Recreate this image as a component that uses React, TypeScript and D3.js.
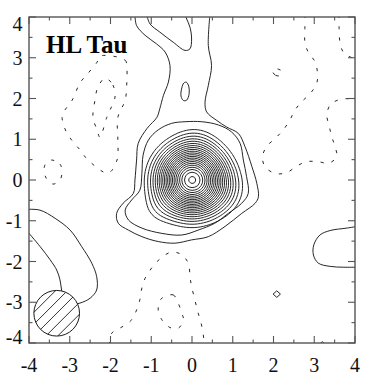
import React from 'react';
import * as d3 from 'd3';

type P = [number, number];

const W = 380;
const H = 388;

// axis ticks
const majorTicks = [-4, -3, -2, -1, 0, 1, 2, 3, 4];
const minorTicks = [-3.5, -2.5, -1.5, -0.5, 0.5, 1.5, 2.5, 3.5];
const title = 'HL Tau';

// core emission model: gaussian components
const coreX = [0.0, 0.9, -0.95, 0.1];
const coreY = [0.0, -0.35, -0.8, 0.95];
const coreAmp = [24.2, 1.3, 1.2, 1.0];
const coreSx = [0.57, 0.4, 0.33, 0.35];
const coreSy = [0.57, 0.4, 0.33, 0.35];
const coreLevels = [3, 4, 5, 6, 7, 8, 9, 10, 11, 12, 13, 14, 15, 16, 17, 18, 19, 20, 21, 22, 23, 24];

// outermost positive contour (level 1), open: enters and leaves through the top edge
const level1: P[] = [
  [-1.40, 4.05], [-1.36, 3.79], [-1.15, 3.55], [-0.87, 3.34], [-0.66, 3.14], [-0.54, 2.81],
  [-0.58, 2.40], [-0.70, 2.08], [-0.79, 1.75], [-0.86, 1.54], [-1.10, 1.27], [-1.32, 0.90],
  [-1.36, 0.49], [-1.40, 0.00], [-1.44, -0.33], [-1.69, -0.57], [-1.85, -0.82], [-1.81, -1.06],
  [-1.56, -1.23], [-1.23, -1.39], [-0.83, -1.51], [-0.42, -1.55], [-0.01, -1.47], [0.40, -1.39],
  [0.81, -1.14], [1.22, -0.82], [1.55, -0.57], [1.63, -0.41], [1.59, -0.08], [1.47, 0.33],
  [1.30, 0.82], [1.14, 1.14], [0.85, 1.30], [0.61, 1.46], [0.36, 1.67], [0.32, 1.91],
  [0.40, 2.32], [0.48, 2.81], [0.40, 3.30], [0.44, 4.05],
];

// second positive contour (closed)
const level2: P[] = [
  [-0.17, 1.43], [0.24, 1.43], [0.65, 1.35], [0.97, 1.18], [1.18, 0.90], [1.26, 0.49],
  [1.34, 0.08], [1.38, -0.33], [1.22, -0.57], [0.89, -0.82], [0.56, -1.06], [0.15, -1.23],
  [-0.25, -1.35], [-0.74, -1.31], [-1.23, -1.18], [-1.56, -0.98], [-1.64, -0.74], [-1.48, -0.49],
  [-1.28, -0.25], [-1.23, 0.16], [-1.20, 0.61], [-1.07, 0.98], [-0.83, 1.23], [-0.50, 1.39],
];

// U-shaped positive contour hanging from the top edge
const topLoop: P[] = [
  [-1.11, 4.05], [-1.03, 3.83], [-0.79, 3.63], [-0.46, 3.38], [-0.17, 3.18], [-0.05, 3.22],
  [-0.01, 3.46], [-0.05, 3.75], [-0.13, 3.95], [-0.17, 4.05],
];

// small positive island in the jet (closed)
const jetIsland: P[] = [
  [-0.14, 2.40], [-0.08, 2.30], [-0.07, 2.12], [-0.13, 1.96], [-0.21, 1.95], [-0.27, 2.06],
  [-0.25, 2.26], [-0.20, 2.38],
];

// lower-left positive contour (open, both ends at the left edge)
const lowerLeft: P[] = [
  [-4.05, -0.72], [-3.73, -0.74], [-3.36, -0.94], [-2.99, -1.23], [-2.71, -1.63], [-2.46, -2.04],
  [-2.34, -2.37], [-2.34, -2.70], [-2.50, -2.90], [-2.75, -3.02], [-3.0, -3.05], [-3.15, -2.90],
  [-3.20, -2.70], [-3.24, -2.45], [-3.32, -2.21], [-3.48, -1.96], [-3.73, -1.63], [-4.05, -1.25],
];

// right-edge positive contour (open)
const rightLobe: P[] = [
  [4.05, -1.14], [3.80, -1.18], [3.39, -1.24], [3.14, -1.35], [2.99, -1.59], [2.98, -1.84],
  [3.10, -2.04], [3.39, -2.12], [3.71, -2.14], [4.05, -2.14],
];

const diamond: P[] = [[2.08, -2.72], [2.17, -2.80], [2.08, -2.88], [1.99, -2.80]];
const bottomNub: P[] = [[3.12, -4.05], [3.2, -3.97], [3.28, -4.05]];

// negative contours (dashed)
const negOuterUL: P[] = [
  [-2.26, 3.04], [-1.64, 2.94], [-1.60, 2.77], [-1.60, 2.38], [-1.64, 1.96], [-1.82, 1.54],
  [-1.82, 0.98], [-1.84, 0.49], [-2.06, 0.17], [-2.55, 0.49], [-2.75, 0.74], [-3.07, 1.15],
  [-3.19, 1.54], [-3.17, 1.64], [-2.94, 1.96], [-2.75, 2.38], [-2.55, 2.62], [-2.33, 2.89],
];
const negInnerUL: P[] = [
  [-2.13, 2.50], [-1.94, 2.33], [-1.89, 2.03], [-2.01, 1.72], [-2.09, 1.54], [-2.26, 1.05],
  [-2.33, 1.23], [-2.43, 1.54], [-2.38, 1.96], [-2.31, 2.28],
];
const negSmallL: P[] = [
  [-3.44, 0.49], [-3.24, 0.39], [-3.19, 0.20], [-3.24, 0.0], [-3.41, -0.10], [-3.58, 0.05],
  [-3.63, 0.29], [-3.56, 0.44],
];
const negRightBig: P[] = [
  [2.77, 4.05], [2.77, 3.72], [2.77, 3.39], [2.85, 3.14], [3.02, 2.90], [3.08, 2.61], [3.06, 2.37],
  [2.90, 2.12], [2.69, 1.92], [2.53, 1.72], [2.40, 1.47], [2.24, 1.23], [2.04, 1.02], [1.83, 0.82],
  [1.73, 0.57], [1.79, 0.33], [2.04, 0.16], [2.32, 0.18], [2.57, 0.34], [2.81, 0.45], [3.10, 0.45],
  [3.35, 0.41], [3.55, 0.57], [3.51, 0.82], [3.43, 1.06], [3.37, 1.31], [3.31, 1.59], [3.39, 1.84],
  [3.63, 1.98], [3.92, 2.00], [4.05, 2.03],
];
const negRightTop: P[] = [
  [3.61, 4.05], [3.61, 3.72], [3.63, 3.39], [3.71, 3.14], [3.88, 3.02], [4.05, 2.98],
];
const negRightSmall: P[] = [
  [1.97, 2.68], [2.05, 2.57], [2.15, 2.56], [2.21, 2.66], [2.12, 2.72], [2.02, 2.72],
];
const negBottomOuter: P[] = [
  [-2.03, -4.05], [-1.97, -3.76], [-1.69, -3.59], [-1.48, -3.43], [-1.36, -3.19], [-1.28, -2.94],
  [-1.23, -2.65], [-1.15, -2.41], [-0.99, -2.16], [-0.79, -1.94], [-0.54, -1.78], [-0.29, -1.81],
  [-0.09, -2.04], [-0.05, -2.37], [-0.01, -2.61], [0.07, -2.94], [0.13, -3.19], [0.20, -3.43],
  [0.26, -3.68], [0.29, -3.92], [0.30, -4.05],
];
const negBottomInner: P[] = [
  [-0.74, -2.90], [-0.46, -2.82], [-0.34, -3.02], [-0.25, -3.27], [-0.21, -3.43], [-0.34, -3.64],
  [-0.54, -3.62], [-0.74, -3.43], [-0.83, -3.19], [-0.79, -2.98],
];

// beam
const beamCenter: P = [-3.32, -3.27];
const beamRadius = 0.56;

const openSolid = [level1, topLoop, lowerLeft, rightLobe, bottomNub];
const closedSolid = [level2, jetIsland, diamond];
const openDashed = [negRightBig, negRightTop, negBottomOuter];
const closedDashed = [negOuterUL, negInnerUL, negSmallL, negRightSmall, negBottomInner];

const left = 29, right = 355, top = 17, bottom = 343;
const serif = "'Liberation Serif', 'Times New Roman', Times, serif";

export default function App() {
  const xs = d3.scaleLinear().domain([-4, 4]).range([left, right]);
  const ys = d3.scaleLinear().domain([-4, 4]).range([bottom, top]);

  const openLine = d3.line<P>().x(d => xs(d[0])).y(d => ys(d[1])).curve(d3.curveCatmullRom.alpha(0.5));
  const closedLine = d3.line<P>().x(d => xs(d[0])).y(d => ys(d[1])).curve(d3.curveCatmullRomClosed.alpha(0.5));
  const polyLine = d3.line<P>().x(d => xs(d[0])).y(d => ys(d[1])).curve(d3.curveLinearClosed);

  // core grid
  const gMin = -2.1, gStep = 0.07, gN = 61;
  const values: number[] = new Array(gN * gN);
  for (let j = 0; j < gN; j++) {
    for (let i = 0; i < gN; i++) {
      const x = gMin + i * gStep;
      const y = gMin + j * gStep;
      let v = 0;
      for (let k = 0; k < coreX.length; k++) {
        const dx = x - coreX[k], dy = y - coreY[k];
        v += coreAmp[k] * Math.exp(-(dx * dx) / (2 * coreSx[k] * coreSx[k]) - (dy * dy) / (2 * coreSy[k] * coreSy[k]));
      }
      values[j * gN + i] = v;
    }
  }
  const contours = d3.contours().size([gN, gN]).thresholds(coreLevels)(values);
  const proj = d3.geoTransform({
    point: function (this: any, gx: number, gy: number) {
      this.stream.point(xs(gMin + (gx - 0.5) * gStep), ys(gMin + (gy - 0.5) * gStep));
    },
  });
  const geo = d3.geoPath(proj);

  const stroke = '#1a1a1a';
  const sw = 0.95;
  const dash = '3.2,8';

  const bx = xs(beamCenter[0]);
  const by = ys(beamCenter[1]);
  const br = xs(beamCenter[0] + beamRadius) - bx;
  const hatchOffsets = [-4, -3, -2, -1, 0, 1, 2, 3, 4];
  const hs = 8.4;

  return (
    <svg width={W} height={H} style={{ position: 'absolute', left: 0, top: 0, background: '#fff' }}>
      <defs>
        <clipPath id="plot">
          <rect x={left} y={top} width={right - left} height={bottom - top} />
        </clipPath>
        <clipPath id="beam">
          <circle cx={bx} cy={by} r={br} />
        </clipPath>
      </defs>
      <rect x={0} y={0} width={W} height={H} fill="#fff" />
      <g clipPath="url(#plot)" fill="none" stroke={stroke} strokeWidth={sw} strokeLinejoin="round">
        {contours.map((c, i) => (
          <path key={'c' + i} d={geo(c as any) || ''} />
        ))}
        {openSolid.map((pts, i) => <path key={'os' + i} d={openLine(pts) || ''} />)}
        {closedSolid.map((pts, i) => (
          <path key={'cs' + i} d={(pts === diamond ? polyLine(pts) : closedLine(pts)) || ''} />
        ))}
        {openDashed.map((pts, i) => <path key={'od' + i} d={openLine(pts) || ''} strokeDasharray={dash} />)}
        {closedDashed.map((pts, i) => <path key={'cd' + i} d={closedLine(pts) || ''} strokeDasharray={dash} />)}
        <circle cx={bx} cy={by} r={br} fill="#fff" stroke={stroke} strokeWidth={1} />
        <g clipPath="url(#beam)">
          {hatchOffsets.map(k => {
            const ox = bx + k * hs / Math.SQRT2;
            const oy = by + k * hs / Math.SQRT2;
            return (
              <line key={'h' + k} x1={ox - 40} y1={oy + 40} x2={ox + 40} y2={oy - 40}
                stroke={stroke} strokeWidth={0.9} />
            );
          })}
        </g>
      </g>
      {/* frame */}
      <rect x={left} y={top} width={right - left} height={bottom - top} fill="none" stroke="#555" strokeWidth={1.4} />
      {/* ticks */}
      <g stroke="#555" strokeWidth={1.1}>
        {majorTicks.map(t => (
          <g key={'mt' + t}>
            <line x1={xs(t)} x2={xs(t)} y1={bottom} y2={bottom - 7} />
            <line x1={xs(t)} x2={xs(t)} y1={top} y2={top + 7} />
            <line x1={left} x2={left + 7} y1={ys(t)} y2={ys(t)} />
            <line x1={right} x2={right - 7} y1={ys(t)} y2={ys(t)} />
          </g>
        ))}
        {minorTicks.map(t => (
          <g key={'nt' + t}>
            <line x1={xs(t)} x2={xs(t)} y1={bottom} y2={bottom - 3.5} />
            <line x1={xs(t)} x2={xs(t)} y1={top} y2={top + 3.5} />
            <line x1={left} x2={left + 3.5} y1={ys(t)} y2={ys(t)} />
            <line x1={right} x2={right - 3.5} y1={ys(t)} y2={ys(t)} />
          </g>
        ))}
      </g>
      {/* tick labels */}
      <g fill="#111">
        {majorTicks.map(t => (
          <text key={'xl' + t} x={xs(t)} y={372} textAnchor="middle"
            style={{ fontFamily: serif, fontSize: '20px' }}>{t}</text>
        ))}
        {majorTicks.map(t => (
          <text key={'yl' + t} x={22.5} y={ys(t) + 7 + (t === 4 ? 7 : t === -4 ? -6 : 0)} textAnchor="end"
            style={{ fontFamily: serif, fontSize: '20px' }}>{t}</text>
        ))}
      </g>
      <text x={46} y={53} fill="#000" style={{ fontFamily: serif, fontSize: '25px', fontWeight: 'bold' }}>{title}</text>
    </svg>
  );
}
